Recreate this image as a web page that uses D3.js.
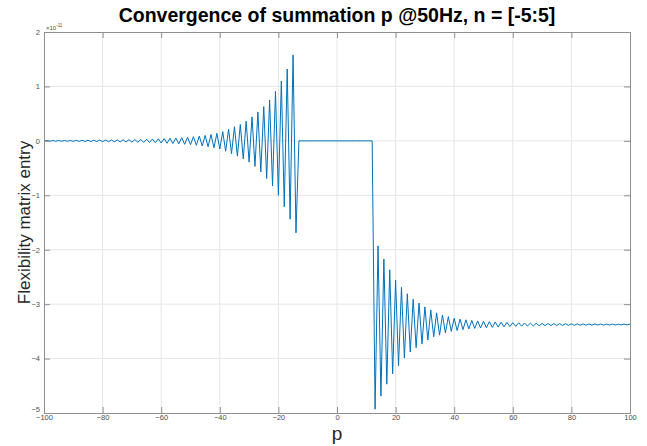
<!DOCTYPE html>
<html>
<head>
<meta charset="utf-8">
<script src="https://cdn.jsdelivr.net/npm/d3@7"></script>
<style>
  body { margin: 0; background: #fff; }
  svg { display: block; font-family: "Liberation Sans", Arial, Helvetica, sans-serif; }
</style>
</head>
<body>
<svg id="chart" width="647" height="446"></svg>
<script>
// Flexibility matrix entry vs. summation index p, values in units of 1e-11

var yExponent = -11;

// p = -100 .. -14
var leftValues = [
    -0.006, 0.006, -0.007, 0.007, -0.007, 0.008, -0.008, 0.008, -0.009, 0.009,
    -0.009, 0.010, -0.010, 0.011, -0.011, 0.012, -0.012, 0.013, -0.013, 0.014,
    -0.014, 0.015, -0.016, 0.016, -0.017, 0.018, -0.019, 0.020, -0.021, 0.022,
    -0.023, 0.024, -0.025, 0.026, -0.028, 0.029, -0.031, 0.033, -0.035, 0.037,
    -0.039, 0.041, -0.044, 0.046, -0.049, 0.052, -0.055, 0.059, -0.063, 0.067,
    -0.071, 0.076, -0.081, 0.087, -0.093, 0.100, -0.108, 0.117, -0.127, 0.138,
    -0.150, 0.170, -0.190, 0.215, -0.235, 0.26, -0.28, 0.30, -0.33, 0.36,
    -0.39, 0.44, -0.47, 0.53, -0.57, 0.63, -0.69, 0.75, -0.83, 0.91,
    -1.00, 1.10, -1.21, 1.32, -1.44, 1.58, -1.69
];

// p = -13 .. 12
var middleValues = [
    0, 0, 0, 0, 0, 0, 0, 0, 0, 0, 0, 0, 0,
    0, 0, 0, 0, 0, 0, 0, 0, 0, 0, 0, 0, 0
];

// p = 13 .. 100
var rightValues = [
    -4.93, -1.93, -4.69, -2.17, -4.47, -2.37, -4.28, -2.56, -4.13, -2.69,
    -3.99, -2.81, -3.88, -2.91, -3.80, -2.98, -3.73, -3.05, -3.66, -3.11,
    -3.60, -3.16, -3.57, -3.20, -3.53, -3.23, -3.50, -3.26, -3.485, -3.275,
    -3.468, -3.288, -3.456, -3.299, -3.446, -3.308, -3.438, -3.315, -3.432, -3.321,
    -3.426, -3.327, -3.421, -3.332, -3.416, -3.336, -3.412, -3.340, -3.408, -3.343,
    -3.405, -3.346, -3.402, -3.349, -3.400, -3.351, -3.398, -3.353, -3.396, -3.355,
    -3.394, -3.357, -3.392, -3.358, -3.391, -3.360, -3.390, -3.361, -3.389, -3.362,
    -3.388, -3.363, -3.387, -3.363, -3.386, -3.364, -3.385, -3.365, -3.385, -3.366,
    -3.384, -3.366, -3.383, -3.367, -3.383, -3.367, -3.382, -3.368
];

var entryValues = leftValues.concat(middleValues, rightValues);
var pValues = d3.range(-100, 101);

var xTicks = [-100, -80, -60, -40, -20, 0, 20, 40, 60, 80, 100];
var yTicks = [-5, -4, -3, -2, -1, 0, 1, 2];

var titleText = "Convergence of summation p @50Hz, n = [-5:5]";
var xLabelText = "p";
var yLabelText = "Flexibility matrix entry";

var margin = {top: 32, right: 17, bottom: 33, left: 44};
var width = 647 - margin.left - margin.right;
var height = 446 - margin.top - margin.bottom;

var axisColor = "#8f8f8f";
var gridColor = "#e6e6e6";
var tickLen = 6;

var svg = d3.select("#chart");
var g = svg.append("g")
    .attr("transform", "translate(" + margin.left + "," + margin.top + ")");

var x = d3.scaleLinear().domain([-100, 100]).range([0, width]);
var y = d3.scaleLinear().domain([-5, 2]).range([height, 0]);

// grid
g.append("g").selectAll("line.vgrid")
    .data(xTicks.slice(1, -1))
    .enter().append("line")
    .attr("x1", function(d) { return x(d); })
    .attr("x2", function(d) { return x(d); })
    .attr("y1", 0).attr("y2", height)
    .attr("stroke", gridColor);

g.append("g").selectAll("line.hgrid")
    .data(yTicks.slice(1, -1))
    .enter().append("line")
    .attr("y1", function(d) { return y(d); })
    .attr("y2", function(d) { return y(d); })
    .attr("x1", 0).attr("x2", width)
    .attr("stroke", gridColor);

// data line
var line = d3.line()
    .x(function(d, i) { return x(pValues[i]); })
    .y(function(d) { return y(d); });

g.append("path")
    .datum(entryValues)
    .attr("d", line)
    .attr("fill", "none")
    .attr("stroke", "#0072BD")
    .attr("stroke-width", 1)
    .attr("stroke-linejoin", "miter");

// axes (box on, ticks inward on all sides)
function styleAxis(sel) {
    sel.select(".domain").attr("stroke", axisColor);
    sel.selectAll(".tick line").attr("stroke", axisColor);
    sel.selectAll(".tick text")
        .attr("fill", "#4d4d4d")
        .style("font-size", "7.5px");
}

var intFormat = d3.format("d");

var xBottom = g.append("g")
    .attr("transform", "translate(0," + height + ")")
    .call(d3.axisBottom(x).tickValues(xTicks).tickFormat(intFormat)
        .tickSizeInner(-tickLen).tickSizeOuter(0).tickPadding(2));
styleAxis(xBottom);

var xTop = g.append("g")
    .call(d3.axisTop(x).tickValues(xTicks).tickSizeInner(-tickLen).tickSizeOuter(0).tickFormat(""));
styleAxis(xTop);

var yLeft = g.append("g")
    .call(d3.axisLeft(y).tickValues(yTicks).tickFormat(intFormat)
        .tickSizeInner(-tickLen).tickSizeOuter(0).tickPadding(4));
styleAxis(yLeft);

// lowest y label sits a little higher, clear of the "-100" below it
yLeft.selectAll(".tick text")
    .filter(function(d) { return d === -5; })
    .attr("dy", "-0.2em");

var yRight = g.append("g")
    .attr("transform", "translate(" + width + ",0)")
    .call(d3.axisRight(y).tickValues(yTicks).tickSizeInner(-tickLen).tickSizeOuter(0).tickFormat(""));
styleAxis(yRight);

// exponent label
var expLabel = g.append("text")
    .attr("x", 2)
    .attr("y", -2)
    .attr("fill", "#4d4d4d")
    .style("font-size", "6px");
expLabel.append("tspan").text("\u00d710");
expLabel.append("tspan")
    .attr("dy", -3)
    .style("font-size", "4.5px")
    .text(yExponent);

// title and axis labels
svg.append("text")
    .attr("x", margin.left + width / 2)
    .attr("y", 22)
    .attr("text-anchor", "middle")
    .style("font-size", "19.5px")
    .style("font-weight", "bold")
    .attr("fill", "#000")
    .text(titleText);

svg.append("text")
    .attr("x", margin.left + width / 2)
    .attr("y", 440)
    .attr("text-anchor", "middle")
    .style("font-size", "19px")
    .attr("fill", "#262626")
    .text(xLabelText);

svg.append("text")
    .attr("transform", "translate(30," + (margin.top + height / 2) + ") rotate(-90)")
    .attr("text-anchor", "middle")
    .style("font-size", "17px")
    .attr("fill", "#262626")
    .text(yLabelText);
</script>
</body>
</html>
